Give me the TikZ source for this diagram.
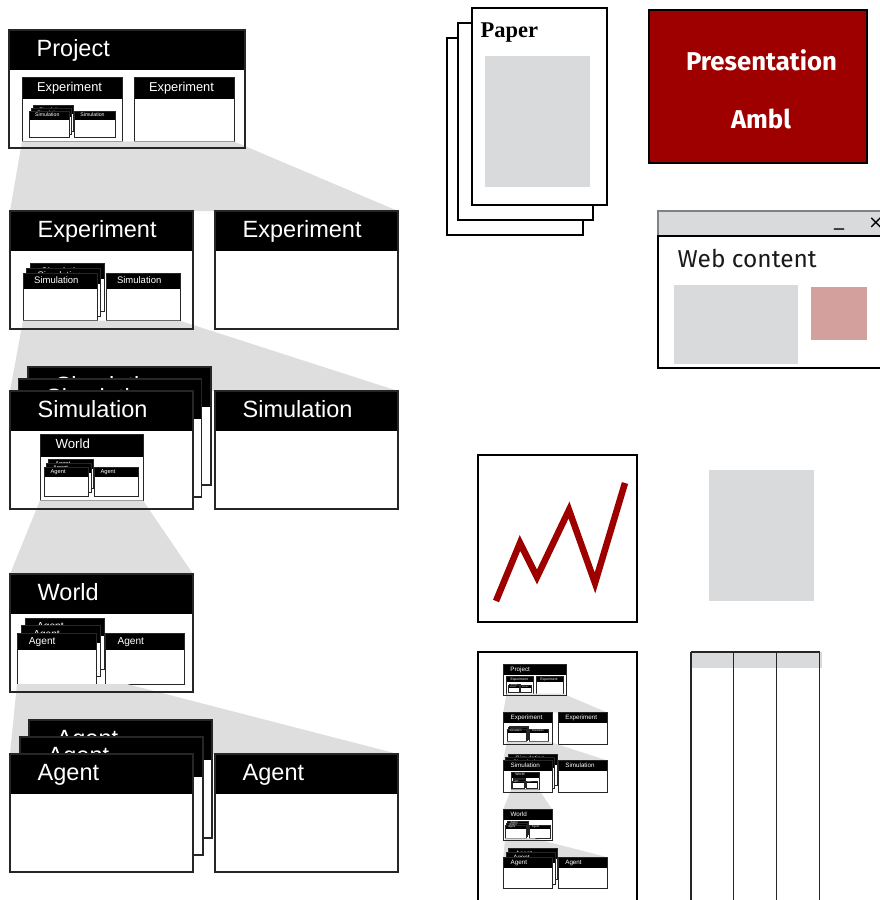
\documentclass[tikz,border=0pt]{standalone}
\usepackage{fontspec}
\setmainfont{Liberation Sans}
\newfontfamily\serifb{Liberation Serif}
\newfontfamily\firaf{Fira Sans}
\newfontfamily\dejavu{DejaVu Sans}
\definecolor{zoomgray}{RGB}{222,222,222}
\definecolor{boxgray}{RGB}{217,218,220}
\definecolor{darkred}{RGB}{158,0,0}
\definecolor{pinkish}{RGB}{212,160,158}
\definecolor{barline}{RGB}{130,130,130}
\newcounter{lbl}
\def\cs{1}\def\lwc{1.2}
\newcommand\setcs[1]{\pgfmathsetmacro\cs{\cs*#1}\pgfmathsetmacro\lwc{max(0.15,1.2*\cs)}}
\tikzset{
  cardline/.style={draw=black!85, line width=\lwc pt},
  cardlabel/.style={text=white, inner sep=0pt, anchor=base west, transform shape,
    font=\fontsize{23.5}{28}\selectfont},
  zoomfill/.style={fill=zoomgray},
  frameline/.style={draw=black, line width=1.3pt},
}
% one card: x, y, width, label
\newcommand\cardbox[4]{%
  \fill[white] (#1,#2) rectangle ++(#3,118);
  \fill[black] (#1,#2) rectangle ++(#3,40);
  \draw[cardline] (#1,#2) rectangle ++(#3,118);
  \stepcounter{lbl}%
  \node[cardlabel] (lbl\arabic{lbl}) at (#1+27.5,#2+26.5) {#4};%
}
\newcommand\lvlA{%
  \cardbox{19}{-34}{183}{Agent}
  \cardbox{10}{-17}{183}{Agent}
  \cardbox{0}{0}{183}{Agent}
  \cardbox{205}{0}{183}{Agent}}
\newcommand\lvlW{%
  \cardbox{0}{0}{183}{World}
  \begin{scope}[shift={(7,59)},scale=0.432]\setcs{0.432}\lvlA\end{scope}}
\newcommand\lvlSe{%
  \cardbox{18}{-24}{183}{Simulation}
  \cardbox{8.5}{-12}{183}{Simulation}
  \cardbox{0}{0}{183}{Simulation}
  \cardbox{205}{0}{183}{Simulation}}
\newcommand\lvlS{%
  \cardbox{18}{-24}{183}{Simulation}
  \cardbox{8.5}{-12}{183}{Simulation}
  \cardbox{0}{0}{183}{Simulation}
  \begin{scope}[shift={(30,43)},scale=0.563]\setcs{0.563}\lvlW\end{scope}
  \cardbox{205}{0}{183}{Simulation}}
\newcommand\lvlE{%
  \cardbox{0}{0}{183}{Experiment}
  \begin{scope}[shift={(13,62)},scale=0.404]\setcs{0.404}\lvlSe\end{scope}
  \cardbox{205}{0}{183}{Experiment}}
\newcommand\drawcolumn{%
  \cardbox{9}{30}{236}{Project}
  \begin{scope}[shift={(22,77)},scale=0.546]\setcs{0.546}\lvlE\end{scope}
  \fill[zoomfill] (22,141.4) -- (233.8,141.4) -- (398,211) -- (10,211) -- cycle;
  \draw[cardline] (9,30) rectangle (245,148);
  \begin{scope}[shift={(10,211)}]\lvlE\end{scope}
  \fill[zoomfill] (23,320.7) -- (179.8,320.7) -- (398,391) -- (10,391) -- cycle;
  \draw[cardline] (10,211) rectangle ++(183,118);
  \begin{scope}[shift={(10,391)}]\lvlS\end{scope}
  \fill[zoomfill] (40,500.4) -- (143,500.4) -- (193,574) -- (10,574) -- cycle;
  \draw[cardline] (10,391) rectangle ++(183,118);
  \begin{scope}[shift={(10,574)}]\lvlW\end{scope}
  \fill[zoomfill] (17,684) -- (127,684) -- (398,754) -- (10,754) -- cycle;
  \draw[cardline] (10,574) rectangle ++(183,118);
  \begin{scope}[shift={(10,754)}]\lvlA\end{scope}
}
\begin{document}
\begin{tikzpicture}[x=1pt,y=-1pt]
\useasboundingbox (0,0) rectangle (880,900);
\clip (0,0) rectangle (880,900);
\fill[white] (0,0) rectangle (880,900);

% left column
\drawcolumn

% paper stack
\draw[frameline, fill=white] (447,38) rectangle (583,235);
\draw[frameline, fill=white] (458,23) rectangle (593,220);
\draw[frameline, fill=white] (472,8) rectangle (607,205);
\fill[boxgray] (485,56) rectangle (590,187);
\node[anchor=base west, inner sep=0pt, font=\serifb\bfseries\fontsize{22.5}{27}\selectfont] (paper) at (480.5,37) {Paper};

% presentation
\draw[fill=darkred, draw=black, line width=1.2pt] (649,10) rectangle (867,163);
\node[anchor=base, inner sep=0pt, text=white] (pres) at (761.5,70) {\resizebox{151pt}{!}{\firaf\bfseries Presentation}};
\node[anchor=base, inner sep=0pt, text=white] (ambl) at (761,128) {\resizebox{60pt}{!}{\firaf\bfseries Ambl}};

% web window
\draw[fill=boxgray, draw=barline, line width=1.2pt] (658,211) rectangle (890,236);
\draw[fill=white, draw=black, line width=1.2pt] (658,236) rectangle (890,368);
\fill[boxgray] (674,285) rectangle (798,364);
\fill[pinkish] (811,287) rectangle (867,340);
\node[anchor=base west, inner sep=0pt, text=black!90] (web) at (677.5,267) {\resizebox{139pt}{!}{\firaf Web content}};
\node[anchor=base, inner sep=0pt, font=\dejavu\fontsize{20}{24}\selectfont] (minbtn) at (839,225.5) {\_};
\node[anchor=center, inner sep=0pt, font=\dejavu\fontsize{18}{22}\selectfont] (closebtn) at (876,223.5) {×};

% chart
\draw[frameline] (478,455) rectangle (637,622);
\draw[draw=darkred, line width=6.5pt, line join=miter] (496,601) -- (520,543) -- (537,577) -- (569,510) -- (595,583) -- (625,483);

% gray block
\fill[boxgray] (709,470) rectangle (814,601);

% thumbnail of the column
\draw[frameline] (478,652) rectangle (637,910);
\begin{scope}[shift={(500.6,656)},scale=0.2667]\setcs{0.2667}\drawcolumn\end{scope}

% table
\fill[boxgray] (691,652) rectangle (821.5,668);
\draw[black!85, line width=1.2pt] (691,652) -- (820,652);
\foreach \xx in {691,733.5,776.5,819.5}{\draw[black!85, line width=1.2pt] (\xx,652) -- (\xx,910);}
\end{tikzpicture}
\end{document}
